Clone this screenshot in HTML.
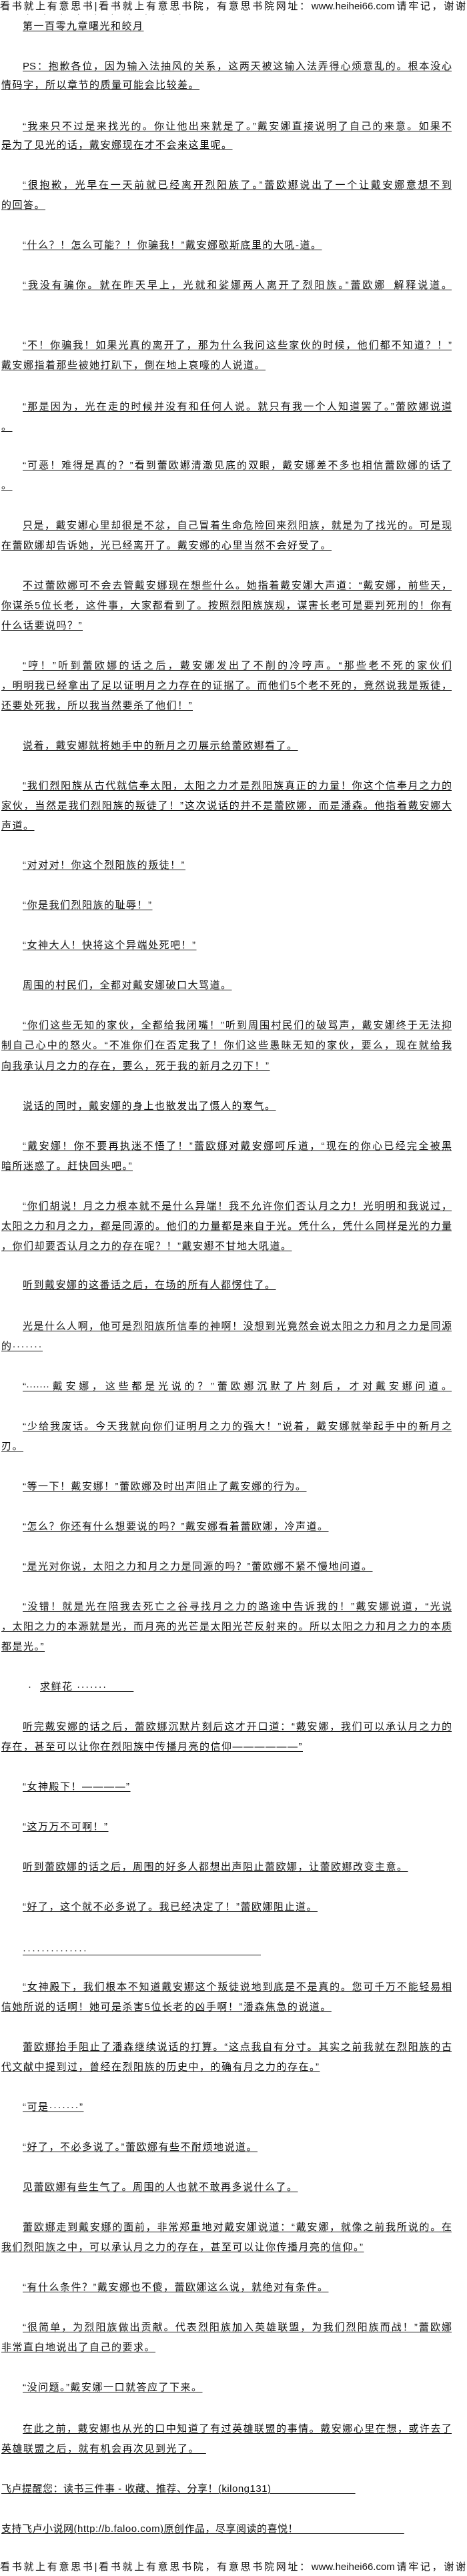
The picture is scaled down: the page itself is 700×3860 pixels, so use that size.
<!DOCTYPE html>
<html><head><meta charset="utf-8">
<style>
html,body{margin:0;padding:0;background:#fff;}
body{width:700px;height:3860px;position:relative;overflow:hidden;
font-family:"Liberation Sans","Noto Sans CJK SC","WenQuanYi Zen Hei",sans-serif;color:#111;}
.l{position:absolute;height:20px;line-height:20px;font-size:15px;letter-spacing:1.5px;
white-space:nowrap;text-decoration:underline;text-underline-offset:2px;text-decoration-thickness:1px;}
.i{left:34px;}
.c{left:2px;}
.j{white-space:normal;overflow:hidden;text-align:justify;text-align-last:justify;letter-spacing:0;}
.i.j{width:643px;}
.c.j{width:675px;}
.h{position:absolute;left:0;width:698px;height:20px;line-height:20px;font-size:15px;
white-space:normal;overflow:hidden;text-align:justify;text-align-last:justify;}
</style></head><body>
<div class="h" style="top:0px">看书就上有意思书|看书就上有意思书院，有意思书院网址：www.heihei66.com请牢记，谢谢</div>
<div style="position:absolute;top:16px;left:40px;font-size:10px;color:#888;letter-spacing:22px;white-space:nowrap">··········</div>
<div class="l i" style="top:30px">第一百零九章曙光和皎月</div>

<div class="l i j" style="top:90px">PS：抱歉各位，因为输入法抽风的关系，这两天被这输入法弄得心烦意乱的。根本没心</div>
<div class="l c" style="top:118px">情码字，所以章节的质量可能会比较差。</div>

<div class="l i j" style="top:180px">“我来只不过是来找光的。你让他出来就是了。”戴安娜直接说明了自己的来意。如果不</div>
<div class="l c" style="top:208px">是为了见光的话，戴安娜现在才不会来这里呢。</div>

<div class="l i j" style="top:268px">“很抱歉，光早在一天前就已经离开烈阳族了。”蕾欧娜说出了一个让戴安娜意想不到</div>
<div class="l c" style="top:298px">的回答。</div>

<div class="l i" style="top:358px">“什么？！怎么可能？！你骗我！”戴安娜歇斯底里的大吼-道。</div>

<div class="l i j" style="top:418px">“我没有骗你。就在昨天早上，光就和娑娜两人离开了烈阳族。”蕾欧娜_解释说道。</div>

<div class="l i j" style="top:508px">“不！你骗我！如果光真的离开了，那为什么我问这些家伙的时候，他们都不知道？！”</div>
<div class="l c" style="top:538px">戴安娜指着那些被她打趴下，倒在地上哀嚎的人说道。</div>

<div class="l i j" style="top:600px">“那是因为，光在走的时候并没有和任何人说。就只有我一个人知道罢了。”蕾欧娜说道</div>
<div class="l c" style="top:630px">。</div>

<div class="l i j" style="top:688px">“可恶！难得是真的？”看到蕾欧娜清澈见底的双眼，戴安娜差不多也相信蕾欧娜的话了</div>
<div class="l c" style="top:718px">。</div>

<div class="l i j" style="top:778px">只是，戴安娜心里却很是不忿，自己冒着生命危险回来烈阳族，就是为了找光的。可是现</div>
<div class="l c" style="top:808px">在蕾欧娜却告诉她，光已经离开了。戴安娜的心里当然不会好受了。</div>

<div class="l i j" style="top:868px">不过蕾欧娜可不会去管戴安娜现在想些什么。她指着戴安娜大声道：“戴安娜，前些天，</div>
<div class="l c j" style="top:898px">你谋杀5位长老，这件事，大家都看到了。按照烈阳族族规，谋害长老可是要判死刑的！你有</div>
<div class="l c" style="top:928px">什么话要说吗？”</div>

<div class="l i j" style="top:988px">“哼！”听到蕾欧娜的话之后，戴安娜发出了不削的冷哼声。“那些老不死的家伙们</div>
<div class="l c j" style="top:1018px">，明明我已经拿出了足以证明月之力存在的证据了。而他们5个老不死的，竟然说我是叛徒，</div>
<div class="l c" style="top:1048px">还要处死我，所以我当然要杀了他们！”</div>

<div class="l i" style="top:1108px">说着，戴安娜就将她手中的新月之刃展示给蕾欧娜看了。</div>

<div class="l i j" style="top:1168px">“我们烈阳族从古代就信奉太阳，太阳之力才是烈阳族真正的力量！你这个信奉月之力的</div>
<div class="l c j" style="top:1198px">家伙，当然是我们烈阳族的叛徒了！”这次说话的并不是蕾欧娜，而是潘森。他指着戴安娜大</div>
<div class="l c" style="top:1228px">声道。</div>

<div class="l i" style="top:1287px">“对对对！你这个烈阳族的叛徒！”</div>
<div class="l i" style="top:1347px">“你是我们烈阳族的耻辱！”</div>
<div class="l i" style="top:1407px">“女神大人！快将这个异端处死吧！”</div>
<div class="l i" style="top:1467px">周围的村民们，全都对戴安娜破口大骂道。</div>

<div class="l i j" style="top:1527px">“你们这些无知的家伙，全都给我闭嘴！”听到周围村民们的破骂声，戴安娜终于无法抑</div>
<div class="l c j" style="top:1557px">制自己心中的怒火。“不准你们在否定我了！你们这些愚昧无知的家伙，要么，现在就给我</div>
<div class="l c" style="top:1588px">向我承认月之力的存在，要么，死于我的新月之刃下！”</div>

<div class="l i" style="top:1648px">说话的同时，戴安娜的身上也散发出了慑人的寒气。</div>

<div class="l i j" style="top:1708px">“戴安娜！你不要再执迷不悟了！”蕾欧娜对戴安娜呵斥道，“现在的你心已经完全被黑</div>
<div class="l c" style="top:1738px">暗所迷惑了。赶快回头吧。”</div>

<div class="l i j" style="top:1798px">“你们胡说！月之力根本就不是什么异端！我不允许你们否认月之力！光明明和我说过，</div>
<div class="l c j" style="top:1828px">太阳之力和月之力，都是同源的。他们的力量都是来自于光。凭什么，凭什么同样是光的力量</div>
<div class="l c" style="top:1858px">，你们却要否认月之力的存在呢？！”戴安娜不甘地大吼道。</div>

<div class="l i" style="top:1916px">听到戴安娜的这番话之后，在场的所有人都愣住了。</div>

<div class="l i j" style="top:1978px">光是什么人啊，他可是烈阳族所信奉的神啊！没想到光竟然会说太阳之力和月之力是同源</div>
<div class="l c" style="top:2008px">的·······</div>

<div class="l i j" style="top:2068px">“·······戴安娜，这些都是光说的？”蕾欧娜沉默了片刻后，才对戴安娜问道。</div>

<div class="l i j" style="top:2128px">“少给我废话。今天我就向你们证明月之力的强大！”说着，戴安娜就举起手中的新月之</div>
<div class="l c" style="top:2158px">刃。</div>

<div class="l i" style="top:2218px">“等一下！戴安娜！”蕾欧娜及时出声阻止了戴安娜的行为。</div>
<div class="l i" style="top:2278px">“怎么？你还有什么想要说的吗？”戴安娜看着蕾欧娜，冷声道。</div>
<div class="l i" style="top:2338px">“是光对你说，太阳之力和月之力是同源的吗？”蕾欧娜不紧不慢地问道。</div>

<div class="l i j" style="top:2398px">“没错！就是光在陪我去死亡之谷寻找月之力的路途中告诉我的！”戴安娜说道，“光说</div>
<div class="l c j" style="top:2428px">，太阳之力的本源就是光，而月亮的光芒是太阳光芒反射来的。所以太阳之力和月之力的本质</div>
<div class="l c" style="top:2458px">都是光。”</div>

<div class="l" style="top:2518px;left:42px;text-decoration:none">·</div>
<div class="l" style="top:2518px;left:60px">求鲜花 ·······&nbsp;&nbsp;&nbsp;&nbsp;&nbsp;&nbsp;&nbsp;</div>

<div class="l i j" style="top:2578px">听完戴安娜的话之后，蕾欧娜沉默片刻后这才开口道：“戴安娜，我们可以承认月之力的</div>
<div class="l c" style="top:2608px">存在，甚至可以让你在烈阳族中传播月亮的信仰——————”</div>

<div class="l i" style="top:2668px">“女神殿下！————”</div>
<div class="l i" style="top:2728px">“这万万不可啊！”</div>
<div class="l i" style="top:2788px">听到蕾欧娜的话之后，周围的好多人都想出声阻止蕾欧娜，让蕾欧娜改变主意。</div>
<div class="l i" style="top:2848px">“好了，这个就不必多说了。我已经决定了！”蕾欧娜阻止道。</div>
<div class="l i" style="top:2913px;letter-spacing:2px">··············&nbsp;&nbsp;&nbsp;&nbsp;&nbsp;&nbsp;&nbsp;&nbsp;&nbsp;&nbsp;&nbsp;&nbsp;&nbsp;&nbsp;&nbsp;&nbsp;&nbsp;&nbsp;&nbsp;&nbsp;&nbsp;&nbsp;&nbsp;&nbsp;&nbsp;&nbsp;&nbsp;&nbsp;&nbsp;&nbsp;&nbsp;&nbsp;&nbsp;&nbsp;&nbsp;&nbsp;&nbsp;&nbsp;&nbsp;&nbsp;&nbsp;&nbsp;</div>

<div class="l i j" style="top:2968px">“女神殿下，我们根本不知道戴安娜这个叛徒说地到底是不是真的。您可千万不能轻易相</div>
<div class="l c" style="top:2998px">信她所说的话啊！她可是杀害5位长老的凶手啊！”潘森焦急的说道。</div>

<div class="l i j" style="top:3058px">蕾欧娜抬手阻止了潘森继续说话的打算。“这点我自有分寸。其实之前我就在烈阳族的古</div>
<div class="l c" style="top:3088px">代文献中提到过，曾经在烈阳族的历史中，的确有月之力的存在。”</div>

<div class="l i" style="top:3148px">“可是·······”</div>
<div class="l i" style="top:3208px">“好了，不必多说了。”蕾欧娜有些不耐烦地说道。</div>
<div class="l i" style="top:3268px">见蕾欧娜有些生气了。周围的人也就不敢再多说什么了。</div>

<div class="l i j" style="top:3328px">蕾欧娜走到戴安娜的面前，非常郑重地对戴安娜说道：“戴安娜，就像之前我所说的。在</div>
<div class="l c" style="top:3358px">我们烈阳族之中，可以承认月之力的存在，甚至可以让你传播月亮的信仰。”</div>

<div class="l i" style="top:3418px">“有什么条件？”戴安娜也不傻，蕾欧娜这么说，就绝对有条件。</div>

<div class="l i j" style="top:3478px">“很简单，为烈阳族做出贡献。代表烈阳族加入英雄联盟，为我们烈阳族而战！”蕾欧娜</div>
<div class="l c" style="top:3508px">非常直白地说出了自己的要求。</div>

<div class="l i" style="top:3568px">“没问题。”戴安娜一口就答应了下来。</div>

<div class="l i j" style="top:3630px">在此之前，戴安娜也从光的口中知道了有过英雄联盟的事情。戴安娜心里在想，或许去了</div>
<div class="l c" style="top:3660px">英雄联盟之后，就有机会再次见到光了。_</div>

<div class="l c" style="top:3720px;letter-spacing:0.5px">飞卢提醒您：读书三件事 - 收藏、推荐、分享！(kilong131)&nbsp;&nbsp;&nbsp;&nbsp;&nbsp;&nbsp;&nbsp;&nbsp;&nbsp;&nbsp;&nbsp;&nbsp;&nbsp;&nbsp;&nbsp;&nbsp;&nbsp;&nbsp;&nbsp;&nbsp;&nbsp;&nbsp;&nbsp;&nbsp;&nbsp;&nbsp;&nbsp;</div>
<div class="l c" style="top:3780px;letter-spacing:0.5px">支持飞卢小说网(http://b.faloo.com)原创作品，尽享阅读的喜悦！&nbsp;&nbsp;&nbsp;&nbsp;&nbsp;&nbsp;&nbsp;&nbsp;&nbsp;&nbsp;&nbsp;&nbsp;&nbsp;&nbsp;&nbsp;&nbsp;&nbsp;&nbsp;&nbsp;&nbsp;&nbsp;&nbsp;&nbsp;&nbsp;&nbsp;&nbsp;&nbsp;&nbsp;&nbsp;&nbsp;&nbsp;&nbsp;&nbsp;&nbsp;</div>

<div class="h" style="top:3837px">看书就上有意思书|看书就上有意思书院，有意思书院网址：www.heihei66.com请牢记，谢谢</div>
</body></html>
